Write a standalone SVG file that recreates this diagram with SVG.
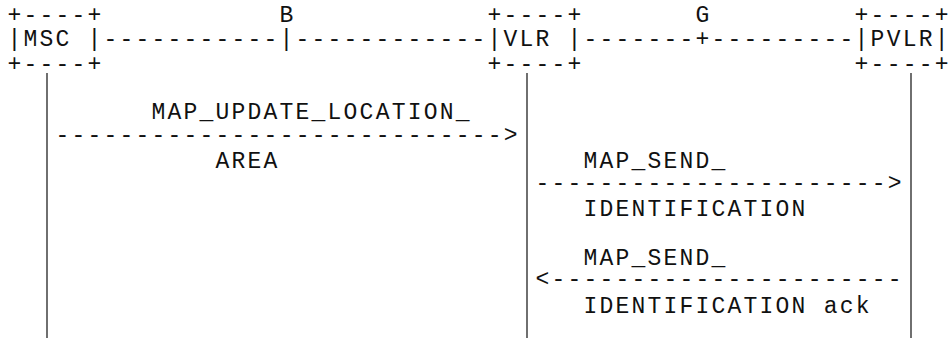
<svg xmlns="http://www.w3.org/2000/svg" width="949" height="338" viewBox="0 0 949 338">
<style>
  .t { font-family: "Liberation Mono", "DejaVu Sans Mono", monospace; font-size: 23px; letter-spacing: 2.2px; fill: #111; }
  .e { font-family: "Liberation Mono", "DejaVu Sans Mono", monospace; font-size: 23px; fill: #111; }
  .life { stroke: #222; stroke-width: 1.3; fill: none; }
</style>
<rect width="949" height="338" fill="#fff"/>
<g id="node-MSC">
  <text class="t" x="7.6" y="22">+----+</text>
  <text class="t" x="7.6" y="46.25">|MSC |</text>
  <text class="t" x="7.6" y="70.5">+----+</text>
</g>
<g id="node-VLR">
  <text class="t" x="487.6" y="22">+----+</text>
  <text class="t" x="487.6" y="46.25">|VLR |</text>
  <text class="t" x="487.6" y="70.5">+----+</text>
</g>
<g id="node-PVLR">
  <text class="e" x="854.6" y="22" dx="0 2.2 2.2 2.2 2.2 2.2">+----+</text>
  <text class="e" x="854.6" y="46.25" dx="0 2.2 2.2 2.2 2.2 2.2">|PVLR|</text>
  <text class="e" x="854.6" y="70.5" dx="0 2.2 2.2 2.2 2.2 2.2">+----+</text>
</g>
<g id="interface-B">
  <text class="t" x="279.6" y="22">B</text>
  <text class="t" x="279.6" y="46.25">|</text>
</g>
<g id="interface-G">
  <text class="t" x="695.6" y="22">G</text>
  <text class="t" x="695.6" y="46.25">+</text>
</g>
<g id="connectors">
  <text class="t" x="103.6" y="46.25">-----------</text>
  <text class="t" x="295.6" y="46.25">------------</text>
  <text class="t" x="583.6" y="46.25">-------</text>
  <text class="t" x="711.6" y="46.25">---------</text>
  <line class="life" x1="47" y1="73" x2="47" y2="338"/>
  <line class="life" x1="527" y1="73" x2="527" y2="338"/>
  <line class="life" x1="911" y1="73" x2="911" y2="338"/>
  <g id="msg-update-location">
    <text class="t" x="151.6" y="119">MAP_UPDATE_LOCATION_</text>
    <text class="t" x="55.6" y="142">----------------------------&gt;</text>
    <text class="t" x="215.6" y="167.5">AREA</text>
  </g>
  <g id="msg-send-identification">
    <text class="t" x="583.6" y="167.5">MAP_SEND_</text>
    <text class="t" x="535.6" y="190">----------------------&gt;</text>
    <text class="t" x="583.6" y="216">IDENTIFICATION</text>
  </g>
  <g id="msg-send-identification-ack">
    <text class="t" x="583.6" y="264.5">MAP_SEND_</text>
    <text class="t" x="535.6" y="286">&lt;----------------------</text>
    <text class="t" x="583.6" y="313">IDENTIFICATION ack</text>
  </g>
</g>
</svg>
